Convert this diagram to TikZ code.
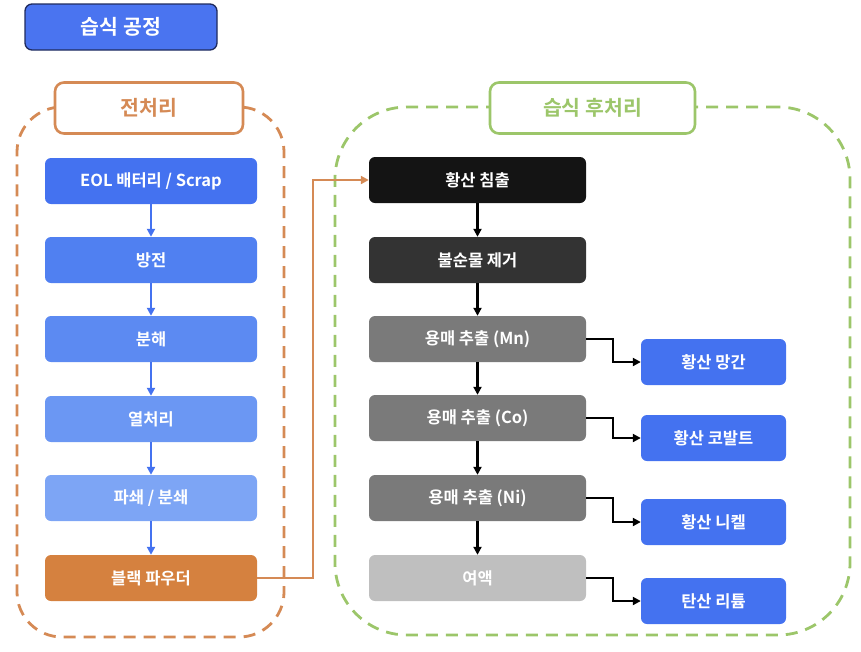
\documentclass[tikz,border=0pt]{standalone}
\usepackage{fontspec}
\setmainfont{Noto Sans CJK KR}[BoldFont={* Bold}]
\usetikzlibrary{arrows.meta}
\definecolor{tblue}{HTML}{4A74F0}
\definecolor{navy}{HTML}{1F2B5E}
\definecolor{c1}{HTML}{4472F0}
\definecolor{c2}{HTML}{5080F1}
\definecolor{c3}{HTML}{5C8AF2}
\definecolor{c4}{HTML}{6B97F3}
\definecolor{c5}{HTML}{7DA5F5}
\definecolor{orng}{HTML}{D5813F}
\definecolor{orngl}{HTML}{D58A55}
\definecolor{grn}{HTML}{9CC66A}
\definecolor{k1}{HTML}{141414}
\definecolor{k2}{HTML}{333333}
\definecolor{k3}{HTML}{7A7A7A}
\definecolor{k4}{HTML}{BFBFBF}
\begin{document}
\begin{tikzpicture}[x=1pt,y=-1pt,
  box/.style={rounded corners=6pt, minimum height=46pt, inner sep=0pt, text=white, font=\bfseries\fontsize{16.5}{19}\selectfont},
  lbox/.style={box, minimum width=212pt},
  rbox/.style={box, minimum width=217pt},
  obox/.style={box, minimum width=145pt, fill=c1},
  cont/.style={dashed, dash pattern=on 12pt off 8pt, line width=2.8pt, inner sep=0pt},
  tag/.style={fill=white, line width=2.6pt, rounded corners=9pt, inner sep=0pt, minimum height=51pt, font=\bfseries\fontsize{20.5}{24}\selectfont},
  barr/.style={draw=c1, line width=2.2pt, -{Triangle[length=8pt,width=8pt]}},
  karr/.style={draw=black, line width=2.2pt, -{Triangle[length=8pt,width=8pt]}},
  oarr/.style={draw=orngl, line width=2.2pt, -{Triangle[length=8pt,width=8pt]}}]
\useasboundingbox (0,0) rectangle (861,651);
% title
\node[fill=tblue, draw=navy, line width=1.3pt, rounded corners=7pt, minimum width=192pt, minimum height=46pt, text=white, font=\bfseries\fontsize{20.5}{24}\selectfont] (title) at (121,27) {습식 공정};
% containers
\node[cont, draw=orngl, rounded corners=45pt, minimum width=267pt, minimum height=530pt] (lc) at (150.5,372) {};
\node[cont, draw=grn, rounded corners=72pt, minimum width=515pt, minimum height=528pt] (rc) at (592.5,371) {};
\node[tag, draw=orngl, text=orngl, minimum width=188pt] (ltag) at (149,108) {전처리};
\node[tag, draw=grn, text=grn, minimum width=205pt] (rtag) at (592.5,108) {습식 후처리};
% left column
\node[lbox, fill=c1] (a1) at (151,181) {EOL 배터리 / Scrap};
\node[lbox, fill=c2] (a2) at (151,260) {방전};
\node[lbox, fill=c3] (a3) at (151,339) {분해};
\node[lbox, fill=c4] (a4) at (151,419) {열처리};
\node[lbox, fill=c5] (a5) at (151,498) {파쇄 / 분쇄};
\node[lbox, fill=orng] (a6) at (151,578) {블랙 파우더};
\foreach \i/\j in {a1/a2,a2/a3,a3/a4,a4/a5,a5/a6} \draw[barr] (\i) -- (\j);
% right column
\node[rbox, fill=k1] (b1) at (477.5,180) {황산 침출};
\node[rbox, fill=k2] (b2) at (477.5,260) {불순물 제거};
\node[rbox, fill=k3] (b3) at (477.5,339) {용매 추출 (Mn)};
\node[rbox, fill=k3] (b4) at (477.5,418) {용매 추출 (Co)};
\node[rbox, fill=k3] (b5) at (477.5,498) {용매 추출 (Ni)};
\node[rbox, fill=k4] (b6) at (477.5,578) {여액};
\foreach \i/\j in {b1/b2,b2/b3,b3/b4,b4/b5,b5/b6} \draw[karr] (\i) -- (\j);
% outputs
\node[obox] (o1) at (713.5,362) {황산 망간};
\node[obox] (o2) at (713.5,438) {황산 코발트};
\node[obox] (o3) at (713.5,522) {황산 니켈};
\node[obox] (o4) at (713.5,601) {탄산 리튬};
\foreach \i/\j in {b3/o1,b4/o2,b5/o3,b6/o4}
  \draw[karr] (\i.east) -| ++(27pt,0) |- (\j.west);
% orange link
\draw[oarr] (a6.east) -| (313,180) -- (b1.west);
\end{tikzpicture}
\end{document}
